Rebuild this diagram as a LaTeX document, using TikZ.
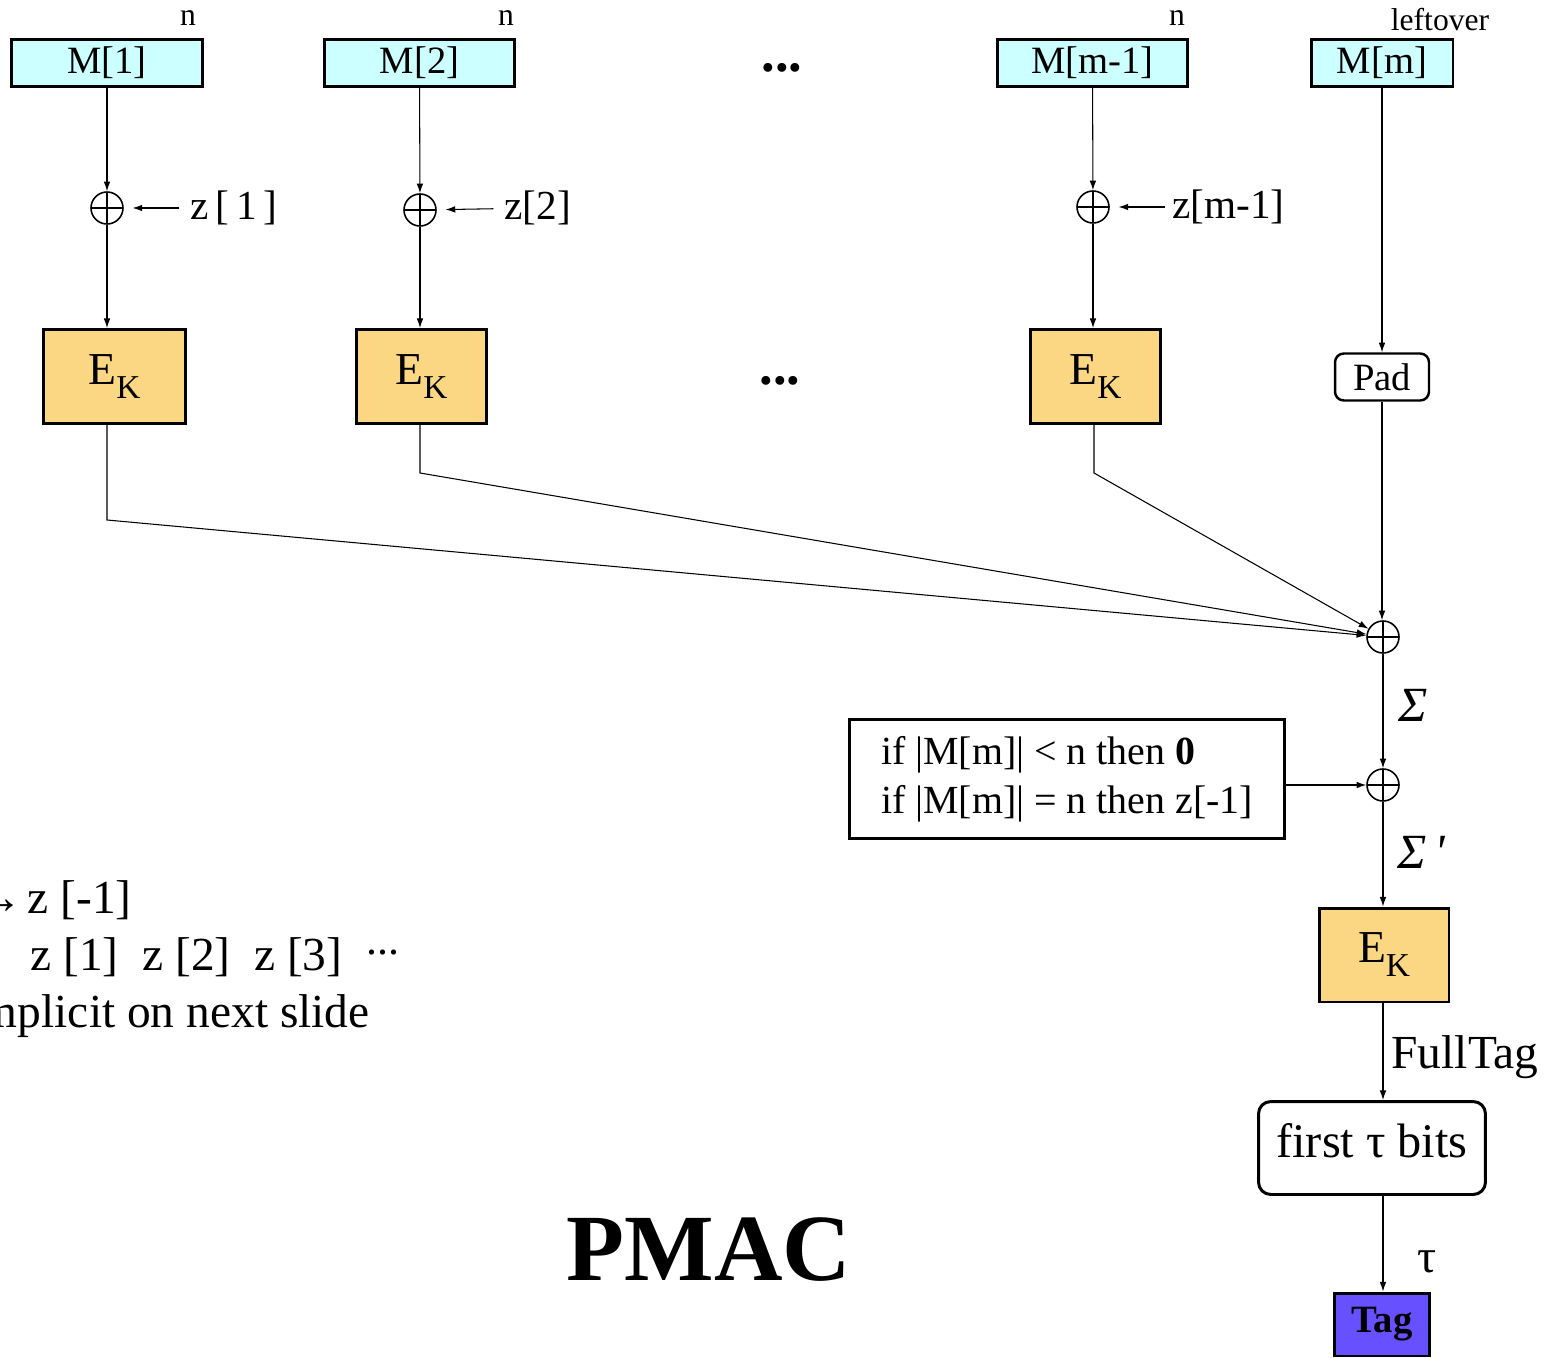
\documentclass[tikz,border=0pt]{standalone}
\usepackage{fontspec}
\setmainfont{Liberation Serif}
\usetikzlibrary{arrows.meta}
\definecolor{msgcyan}{HTML}{CCFFFF}
\definecolor{ekorange}{HTML}{FBD784}
\definecolor{tagblue}{HTML}{6650FF}
\begin{document}
\begin{tikzpicture}[x=0.02cm,y=-0.02cm,
    every node/.style={font=\fontsize{22}{26}\selectfont},
    block/.style={draw,line width=1.7pt,inner sep=0pt},
    msg/.style={block,fill=msgcyan,minimum height=0.94cm},
    cipher/.style={block,fill=ekorange,minimum width=2.6cm,minimum height=1.88cm,font=\fontsize{26}{30}\selectfont},
    xor/.style={circle,draw,line width=0.9pt,minimum size=0.64cm,inner sep=0pt,
      path picture={\draw[line width=0.9pt] (path picture bounding box.north) -- (path picture bounding box.south)
        (path picture bounding box.west) -- (path picture bounding box.east);}},
    mask/.style={anchor=west,inner xsep=0pt,font=\fontsize{23.5}{26}\selectfont},
    wire/.style={line width=0.6pt},
    arr/.style={wire,-{Latex[length=5.5pt,width=3.8pt]}},
    small/.style={font=\fontsize{18}{20}\selectfont},
    big/.style={font=\fontsize{27}{30}\selectfont},
    dots/.style={anchor=base,font=\fontsize{31}{32}\selectfont\bfseries}]
    \useasboundingbox (0,0) rectangle (1563,1358);
    \clip (0,0) rectangle (1563,1358);
    % message blocks
    \node (m1) [msg,minimum width=3.82cm] at (107,63) {M[1]};
    \node (m2) [msg,minimum width=3.8cm] at (419.5,63) {M[2]};
    \node (mm1) [msg,minimum width=3.8cm] at (1092.5,63) {M[m-1]};
    \node (mm) [msg,minimum width=2.84cm] at (1382,63) {M[m]};
    \node [small] at (188,18) {n};
    \node [small] at (506,18) {n};
    \node [small] at (1177,18) {n};
    \node [small] at (1440,20) {leftover};
    \node [dots] at (782,72) {...};
    % masks
    \node (x1) [xor] at (107,208) {};
    \node (x2) [xor] at (420,210) {};
    \node (x3) [xor] at (1093,207) {};
    \node (z1) [mask] at (190,208) {z\,[\,1\,]};
    \node (z2) [mask] at (504,208) {z[2]};
    \node (z3) [mask] at (1172,207) {z[m-1]};
    % block cipher calls
    \node (ek1) [cipher,minimum width=2.84cm] at (114.5,376.5) {E\raisebox{-8pt}{\fontsize{19}{19}\selectfont K}};
    \node (ek2) [cipher] at (421.5,376.5) {E\raisebox{-8pt}{\fontsize{19}{19}\selectfont K}};
    \node (ek3) [cipher] at (1095.5,376.5) {E\raisebox{-8pt}{\fontsize{19}{19}\selectfont K}};
    \node [dots] at (780,385) {...};
    \node (pad) [block,line width=1.4pt,rounded corners=5pt,minimum width=1.88cm,minimum height=0.94cm] at (1382,377) {Pad};
    \coordinate (k1) at (107,520);
    \coordinate (k2) at (420,473);
    \coordinate (k3) at (1094,473);
    % checksum and final encryption
    \node (xs) [xor] at (1383,637) {};
    \node (xc) [xor] at (1383,785) {};
    \node (cond) [block,align=left,minimum width=8.7cm,minimum height=2.38cm,font=\fontsize{22.7}{28}\selectfont] at (1067,779)
      {if |M[m]| < n then \textbf{0}\\if |M[m]| = n then z[-1]};
    \node (ekf) [cipher] at (1384,955) {E\raisebox{-8pt}{\fontsize{19}{19}\selectfont K}};
    \node (first) [block,rounded corners=7pt,minimum width=4.54cm,minimum height=1.86cm,font=\fontsize{27.5}{30}\selectfont] at (1372,1148)
      {\raisebox{8pt}{first τ bits}};
    \node (tag) [block,fill=tagblue,minimum width=1.9cm,minimum height=1.26cm,font=\fontsize{22}{26}\selectfont\bfseries] at (1382,1324.5) {Tag};
    \node (sig) [font=\fontsize{28}{30}\selectfont] at (1413,705) {\itshape Σ};
    \node (sigp) [font=\fontsize{28}{30}\selectfont] at (1421,852) {\itshape Σ\,\textquotesingle};
    \node (full) [big] at (1465,1057) {FullTag};
    \node (tau) [big] at (1427,1262) {τ};
    \node (title) [anchor=base,font=\fontsize{54}{60}\selectfont\bfseries] at (709,1280) {PMAC};
    % notes on the masks
    \node (zinv) [anchor=base east,inner sep=0pt,big] at (132,913) {→\kern-4pt\ z [-1]};
    \node (zseq) [anchor=base west,inner sep=0pt,big] at (30,970)
      {z [1]\ \ z [2]\ \ z [3]\ \ \raisebox{9pt}{\fontsize{25}{25}\selectfont ...}};
    \node (note) [anchor=base east,inner sep=0pt,big] at (370,1027) {implicit on next slide};
    % wires
    \draw [arr] (m1) -- (x1);
    \draw [arr] (m2) -- (x2);
    \draw [arr] (mm1) -- (x3);
    \draw [arr,shorten <=6pt,shorten >=5pt] (z1) -- (x1);
    \draw [arr,shorten <=6pt,shorten >=5pt] (z2) -- (x2);
    \draw [arr,shorten <=4pt,shorten >=5pt] (z3) -- (x3);
    \draw [arr] (x1) -- (x1 |- ek1.north);
    \draw [arr] (x2) -- (x2 |- ek2.north);
    \draw [arr] (x3) -- (x3 |- ek3.north);
    \draw [arr] (k1 |- ek1.south) -- (k1) -- (xs);
    \draw [arr] (k2 |- ek2.south) -- (k2) -- (xs);
    \draw [arr] (k3 |- ek3.south) -- (k3) -- (xs);
    \draw [arr] (mm.south -| pad) -- (pad);
    \draw [arr] (pad) -- (pad |- xs.north);
    \draw [arr] (xs) -- (xc);
    \draw [arr] (cond.east |- xc) -- (xc);
    \draw [arr] (xc) -- (xc |- ekf.north);
    \draw [arr] (xc |- ekf.south) -- (xc |- first.north);
    \draw [arr] (xc |- first.south) -- (xc |- tag.north);
\end{tikzpicture}
\end{document}
